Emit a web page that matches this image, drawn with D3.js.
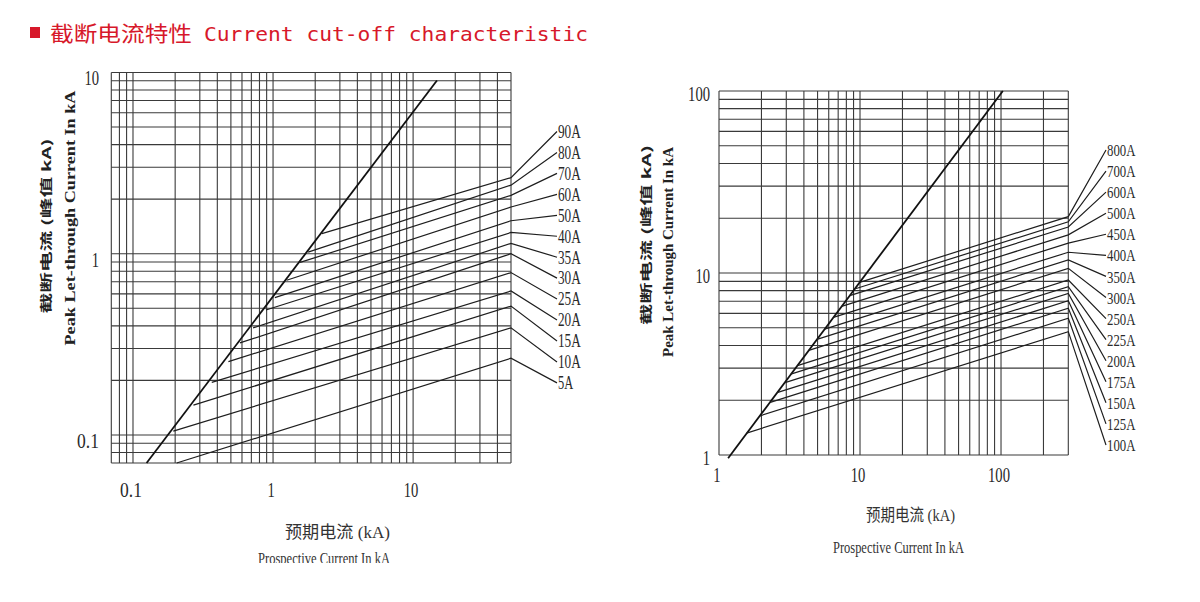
<!DOCTYPE html>
<html>
<head>
<meta charset="utf-8">
<script src="https://cdn.jsdelivr.net/npm/d3@7"></script>
<style>
  body { margin: 0; background: #fff; }
</style>
</head>
<body>
<div id="chart"></div>
<script>
// ---- left chart (small ratings) ----
const leftRatings  = ["90A", "80A", "70A", "60A", "50A", "40A", "35A", "30A", "25A", "20A", "15A", "10A", "5A"];
const leftStartI   = [2.23, 1.78, 1.56, 1.25, 1.03, 0.89, 0.72, 0.58, 0.48, 0.365, 0.27, 0.194, 0.205];
const leftStartIp  = [1.29, 1.02, 0.895, 0.714, 0.572, 0.489, 0.39, 0.322, 0.254, 0.195, 0.146, 0.105, 0.07];
const leftEndIp    = [2.63, 2.39, 2.10, 1.81, 1.52, 1.31, 1.14, 1.0, 0.787, 0.623, 0.514, 0.39, 0.265];
const leftEndI     = 50;
const leftLimit    = [[0.125, 0.07], [14.8, 9.03]];
const leftXTicks   = [0.1, 1, 10];
const leftYTicks   = [10, 1, 0.1];

// ---- right chart (large ratings) ----
const rightRatings = ["800A", "700A", "600A", "500A", "450A", "400A", "350A", "300A", "250A", "225A", "200A", "175A", "150A", "125A", "100A"];
const rightStartI  = [9.94, 9.16, 8.45, 7.41, 6.48, 5.61, 4.95, 4.33, 3.60, 3.23, 2.90, 2.58, 2.28, 1.95, 1.57];
const rightStartIp = [8.88, 8.17, 7.51, 6.55, 5.70, 4.92, 4.32, 3.76, 3.10, 2.78, 2.49, 2.20, 1.94, 1.64, 1.32];
const rightEndIp   = [20.4, 19.1, 17.9, 16.2, 14.6, 13.0, 11.8, 10.6, 9.15, 8.41, 7.73, 7.04, 6.40, 5.64, 4.76];
const rightEndI    = 300;
const rightLimit   = [[1.16, 0.96], [103, 100]];
const rightXTicks  = [1, 10, 100];
const rightYTicks  = [100, 10, 1];

// texts
const titleCn = "截断电流特性";
const titleEn = "Current cut-off characteristic";
const yTitleCn = "截断电流 (峰值 kA)";
const yTitleEn = "Peak Let-through Current In kA";
const xTitleCn = "预期电流 (kA)";
const xTitleEn = "Prospective Current In kA";

const W = 1200, H = 602;
const serif = "'Liberation Serif', 'Noto Sans CJK SC', serif";
const ink = "#2a2a2a";

const svg = d3.select("#chart").append("svg")
    .attr("width", W)
    .attr("height", H)
    .style("display", "block");

// title
svg.append("rect")
    .attr("x", 30).attr("y", 27)
    .attr("width", 10).attr("height", 11)
    .attr("fill", "#d7182a");

svg.append("text")
    .attr("x", 50).attr("y", 41)
    .attr("fill", "#d7182a")
    .style("font-family", "'Noto Sans CJK SC', sans-serif")
    .style("font-size", "21px")
    .attr("textLength", 142)
    .attr("lengthAdjust", "spacingAndGlyphs")
    .text(titleCn);

svg.append("text")
    .attr("x", 204).attr("y", 41)
    .attr("fill", "#d7182a")
    .style("font-family", "'DejaVu Sans Mono', monospace")
    .style("font-size", "19px")
    .attr("textLength", 384)
    .attr("lengthAdjust", "spacingAndGlyphs")
    .text(titleEn);

svg.append("defs").append("clipPath")
    .attr("id", "pageClip")
    .append("rect")
    .attr("x", 0).attr("y", 0)
    .attr("width", W).attr("height", 563);

function drawChart(o) {
    const g = svg.append("g");

    const x = d3.scaleLog().domain(o.xDomain).range(o.xRange);
    const y = d3.scaleLog().domain(o.yDomain).range(o.yRange);
    const [x0, x1] = o.xRange;
    const [yb, yt] = o.yRange;

    // grid
    g.append("g").selectAll("line")
        .data(x.ticks())
        .join("line")
        .attr("x1", d => x(d)).attr("x2", d => x(d))
        .attr("y1", yb).attr("y2", yt)
        .attr("stroke", "#3a3a3a")
        .attr("stroke-width", 1.1);

    g.append("g").selectAll("line")
        .data(y.ticks())
        .join("line")
        .attr("x1", x0).attr("x2", x1)
        .attr("y1", d => y(d)).attr("y2", d => y(d))
        .attr("stroke", "#3a3a3a")
        .attr("stroke-width", 1.1);

    // tick labels
    g.append("g").selectAll("text")
        .data(o.xTicks)
        .join("text")
        .attr("x", d => x(d) - 2)
        .attr("y", yb + o.xLabelGap)
        .attr("dy", "0.33em")
        .attr("text-anchor", "middle")
        .attr("fill", ink)
        .style("font-family", serif)
        .style("font-size", "21px")
        .attr("textLength", d => String(d).length * 7.3)
        .attr("lengthAdjust", "spacingAndGlyphs")
        .text(d => String(d));

    g.append("g").selectAll("text")
        .data(o.yTicks)
        .join("text")
        .attr("x", o.yLabelX)
        .attr("y", d => y(d) + o.yLabelGap)
        .attr("dy", "0.33em")
        .attr("text-anchor", "end")
        .attr("fill", ink)
        .style("font-family", serif)
        .style("font-size", "21px")
        .attr("textLength", d => String(d).length * 7.3)
        .attr("lengthAdjust", "spacingAndGlyphs")
        .text(d => String(d));

    // prospective (unlimited) line
    const line = d3.line().x(d => x(d[0])).y(d => y(d[1]));
    g.append("path")
        .datum(o.limit)
        .attr("d", line)
        .attr("fill", "none")
        .attr("stroke", "#111")
        .attr("stroke-width", 1.8);

    // cut-off curves with leader lines to the labels
    o.ratings.forEach((r, i) => {
        const ly = o.labelTop + i * o.labelStep;
        const ex = x(o.endI), ey = y(o.endIp[i]);
        g.append("path")
            .attr("d", `M${x(o.startI[i])},${y(o.startIp[i])}L${ex},${ey}L${o.labelX - 1},${ly}`)
            .attr("fill", "none")
            .attr("stroke", "#1e1e1e")
            .attr("stroke-width", 1.2);

        g.append("text")
            .attr("x", o.labelX)
            .attr("y", ly)
            .attr("dy", "0.35em")
            .attr("fill", ink)
            .style("font-family", serif)
            .style("font-size", o.labelSize + "px")
            .attr("textLength", r.length * o.labelCharW)
            .attr("lengthAdjust", "spacingAndGlyphs")
            .text(r);
    });

    // axis titles
    g.append("text")
        .attr("transform", `translate(${o.yCn[0]},${o.yCn[1]}) rotate(-90)`)
        .attr("text-anchor", "middle")
        .attr("dy", "0.35em")
        .attr("fill", "#222")
        .style("font-family", "'Noto Sans CJK SC', sans-serif")
        .style("font-weight", "bold")
        .style("font-size", "12px")
        .attr("textLength", o.yCn[2])
        .attr("lengthAdjust", "spacingAndGlyphs")
        .text(yTitleCn);

    g.append("text")
        .attr("transform", `translate(${o.yEn[0]},${o.yEn[1]}) rotate(-90)`)
        .attr("text-anchor", "middle")
        .attr("dy", "0.35em")
        .attr("fill", "#222")
        .style("font-family", serif)
        .style("font-weight", "bold")
        .style("font-size", "14px")
        .attr("textLength", o.yEn[2])
        .attr("lengthAdjust", "spacingAndGlyphs")
        .text(yTitleEn);

    g.append("text")
        .attr("x", o.xCn[0]).attr("y", o.xCn[1])
        .attr("dy", "0.35em")
        .attr("fill", "#333")
        .style("font-family", serif)
        .style("font-size", "17px")
        .attr("textLength", o.xCn[2])
        .attr("lengthAdjust", "spacingAndGlyphs")
        .text(xTitleCn);

    g.append("text")
        .attr("x", o.xEn[0]).attr("y", o.xEn[1])
        .attr("dy", "0.35em")
        .attr("fill", "#333")
        .attr("clip-path", "url(#pageClip)")
        .style("font-family", serif)
        .style("font-size", "16px")
        .attr("textLength", o.xEn[2])
        .attr("lengthAdjust", "spacingAndGlyphs")
        .text(xTitleEn);
}

drawChart({
    xDomain: [0.07, 50], xRange: [111.3, 511],
    yDomain: [0.07, 10], yRange: [463, 72.5],
    xTicks: leftXTicks, yTicks: leftYTicks,
    xLabelGap: 27, yLabelX: 99, yLabelGap: 6,
    limit: leftLimit,
    ratings: leftRatings, startI: leftStartI, startIp: leftStartIp,
    endI: leftEndI, endIp: leftEndIp,
    labelX: 558, labelTop: 131.5, labelStep: 20.95,
    labelSize: 18, labelCharW: 7.6,
    yCn: [47, 226, 175], yEn: [70, 218, 255],
    xCn: [285, 532, 105], xEn: [258, 558, 132]
});

drawChart({
    xDomain: [1, 300], xRange: [719, 1068.3],
    yDomain: [1, 100], yRange: [455, 91],
    xTicks: rightXTicks, yTicks: rightYTicks,
    xLabelGap: 20, yLabelX: 710, yLabelGap: 3,
    limit: rightLimit,
    ratings: rightRatings, startI: rightStartI, startIp: rightStartIp,
    endI: rightEndI, endIp: rightEndIp,
    labelX: 1107, labelTop: 150, labelStep: 21.07,
    labelSize: 17.5, labelCharW: 7.1,
    yCn: [647, 235, 180], yEn: [668, 252, 210],
    xCn: [866, 515, 89], xEn: [833, 547, 131]
});
</script>
</body>
</html>
